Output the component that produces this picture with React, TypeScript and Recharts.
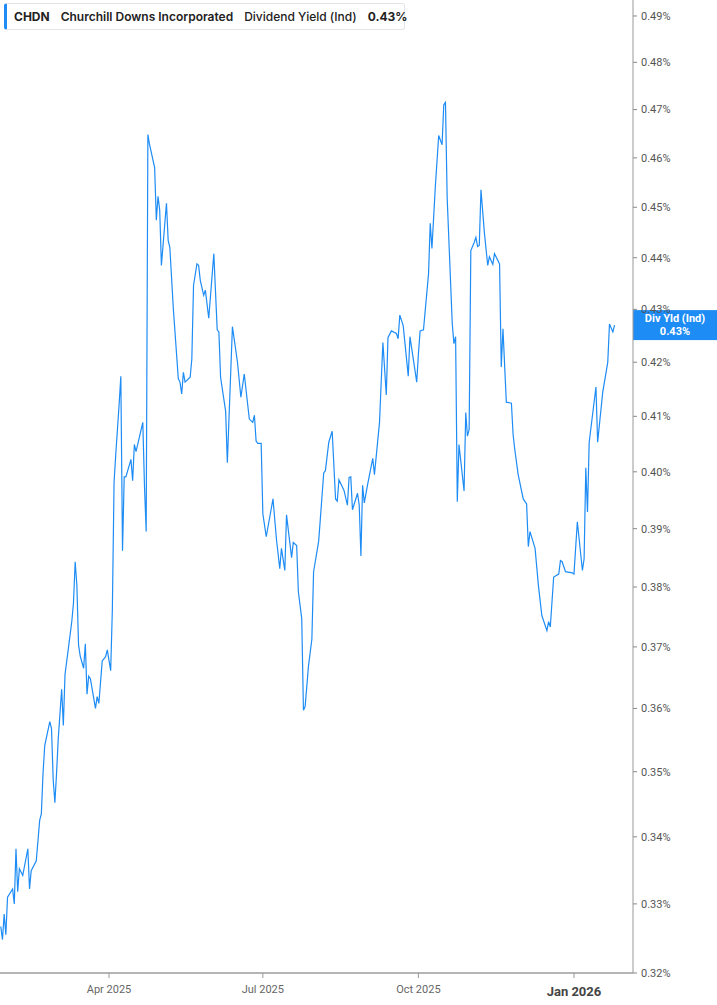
import { Line, LineChart, ReferenceLine, XAxis, YAxis } from 'recharts'

const dates = [
  '2025-01-27', '2025-01-28', '2025-01-29', '2025-01-30', '2025-01-31', '2025-02-03', '2025-02-04', '2025-02-05',
  '2025-02-06', '2025-02-07', '2025-02-09', '2025-02-12', '2025-02-13', '2025-02-14', '2025-02-17', '2025-02-19',
  '2025-02-20', '2025-02-21', '2025-02-22', '2025-02-25', '2025-02-26', '2025-02-27', '2025-02-28', '2025-03-01',
  '2025-03-02', '2025-03-04', '2025-03-05', '2025-03-06', '2025-03-08', '2025-03-10', '2025-03-11', '2025-03-12',
  '2025-03-13', '2025-03-14', '2025-03-15', '2025-03-17', '2025-03-18', '2025-03-19', '2025-03-20', '2025-03-21',
  '2025-03-24', '2025-03-25', '2025-03-26', '2025-03-28', '2025-03-30', '2025-03-31', '2025-04-02', '2025-04-03',
  '2025-04-04', '2025-04-05', '2025-04-06', '2025-04-07', '2025-04-08', '2025-04-09', '2025-04-10', '2025-04-11',
  '2025-04-14', '2025-04-15', '2025-04-16', '2025-04-17', '2025-04-21', '2025-04-22', '2025-04-23', '2025-04-24',
  '2025-04-25', '2025-04-28', '2025-04-29', '2025-04-30', '2025-05-01', '2025-05-02', '2025-05-05', '2025-05-06',
  '2025-05-07', '2025-05-09', '2025-05-12', '2025-05-13', '2025-05-14', '2025-05-15', '2025-05-16', '2025-05-19',
  '2025-05-20', '2025-05-21', '2025-05-23', '2025-05-24', '2025-05-25', '2025-05-27', '2025-05-28', '2025-05-30',
  '2025-06-02', '2025-06-04', '2025-06-05', '2025-06-06', '2025-06-09', '2025-06-10', '2025-06-13', '2025-06-16',
  '2025-06-18', '2025-06-20', '2025-06-23', '2025-06-25', '2025-06-26', '2025-06-27', '2025-06-28', '2025-06-30',
  '2025-07-01', '2025-07-03', '2025-07-07', '2025-07-09', '2025-07-11', '2025-07-12', '2025-07-14', '2025-07-15',
  '2025-07-18', '2025-07-19', '2025-07-21', '2025-07-22', '2025-07-24', '2025-07-25', '2025-07-26', '2025-07-28',
  '2025-07-30', '2025-07-31', '2025-08-03', '2025-08-04', '2025-08-06', '2025-08-07', '2025-08-09', '2025-08-11',
  '2025-08-13', '2025-08-14', '2025-08-15', '2025-08-18', '2025-08-20', '2025-08-21', '2025-08-22', '2025-08-23',
  '2025-08-26', '2025-08-27', '2025-08-28', '2025-08-29', '2025-08-30', '2025-09-01', '2025-09-04', '2025-09-05',
  '2025-09-08', '2025-09-09', '2025-09-10', '2025-09-12', '2025-09-13', '2025-09-15', '2025-09-18', '2025-09-19',
  '2025-09-20', '2025-09-22', '2025-09-25', '2025-09-26', '2025-09-30', '2025-10-01', '2025-10-02', '2025-10-04',
  '2025-10-07', '2025-10-08', '2025-10-09', '2025-10-11', '2025-10-13', '2025-10-15', '2025-10-16', '2025-10-17',
  '2025-10-18', '2025-10-21', '2025-10-22', '2025-10-23', '2025-10-24', '2025-10-25', '2025-10-28', '2025-10-29',
  '2025-10-30', '2025-10-31', '2025-11-01', '2025-11-03', '2025-11-04', '2025-11-05', '2025-11-06', '2025-11-07',
  '2025-11-09', '2025-11-11', '2025-11-12', '2025-11-14', '2025-11-15', '2025-11-18', '2025-11-19', '2025-11-20',
  '2025-11-22', '2025-11-25', '2025-11-26', '2025-11-27', '2025-11-29', '2025-12-02', '2025-12-04', '2025-12-05',
  '2025-12-06', '2025-12-09', '2025-12-11', '2025-12-13', '2025-12-16', '2025-12-17', '2025-12-18', '2025-12-20',
  '2025-12-23', '2025-12-24', '2025-12-25', '2025-12-27', '2025-12-31', '2026-01-01', '2026-01-03', '2026-01-06',
  '2026-01-07', '2026-01-08', '2026-01-09', '2026-01-10', '2026-01-14', '2026-01-15', '2026-01-18', '2026-01-21',
  '2026-01-22', '2026-01-24', '2026-01-25',
]

// dividend yield, in percent
const yields = [
  0.3267, 0.3248, 0.3285, 0.3255, 0.331, 0.3322, 0.33, 0.3382,
  0.3318, 0.3352, 0.3342, 0.3382, 0.3322, 0.3349, 0.3364, 0.3425,
  0.3435, 0.3498, 0.3541, 0.3579, 0.3568, 0.3488, 0.3452, 0.3498,
  0.3552, 0.3631, 0.3573, 0.3655, 0.3698, 0.3742, 0.3773, 0.3843,
  0.3803, 0.3703, 0.3685, 0.3665, 0.3705, 0.3623, 0.3652, 0.3648,
  0.36, 0.3619, 0.3608, 0.3677, 0.3684, 0.3695, 0.3661, 0.3763,
  0.3981, 0.4031, 0.4076, 0.4122, 0.4174, 0.3862, 0.3991, 0.3991,
  0.4022, 0.3984, 0.4049, 0.4036, 0.4089, 0.3974, 0.3895, 0.4648,
  0.4627, 0.458, 0.4474, 0.4522, 0.4494, 0.4385, 0.4508, 0.4434,
  0.442, 0.4304, 0.4169, 0.4163, 0.4141, 0.4181, 0.4163, 0.4172,
  0.4206, 0.4346, 0.4388, 0.4385, 0.4356, 0.4327, 0.4337, 0.4283,
  0.4408, 0.4261, 0.4257, 0.4172, 0.4109, 0.4016, 0.4267, 0.42,
  0.4135, 0.4178, 0.4095, 0.4089, 0.4102, 0.4055, 0.4051, 0.4051,
  0.3926, 0.3886, 0.3952, 0.3883, 0.3831, 0.3866, 0.3828, 0.3924,
  0.385, 0.3876, 0.3871, 0.3792, 0.3747, 0.3597, 0.3603, 0.3669,
  0.3713, 0.3826, 0.3878, 0.3917, 0.3998, 0.4002, 0.4053, 0.4073,
  0.3952, 0.3948, 0.3986, 0.3967, 0.3941, 0.399, 0.3991, 0.3933,
  0.3962, 0.3941, 0.3853, 0.3976, 0.3945, 0.3978, 0.4024, 0.3995,
  0.4089, 0.4163, 0.4237, 0.4139, 0.4246, 0.4259, 0.4254, 0.4244,
  0.4289, 0.4269, 0.4174, 0.4248, 0.4163, 0.4215, 0.4259, 0.4261,
  0.4369, 0.4468, 0.4418, 0.4541, 0.4646, 0.4627, 0.471, 0.4715,
  0.452, 0.4274, 0.4235, 0.4248, 0.3947, 0.4049, 0.3966, 0.4107,
  0.4064, 0.4076, 0.4414, 0.443, 0.444, 0.4422, 0.4424, 0.4535,
  0.445, 0.4385, 0.4402, 0.4387, 0.4408, 0.4388, 0.4191, 0.4263,
  0.4126, 0.4124, 0.4067, 0.404, 0.3995, 0.3952, 0.3943, 0.3869,
  0.3895, 0.3866, 0.3802, 0.3752, 0.3727, 0.3742, 0.3733, 0.3817,
  0.3822, 0.3845, 0.3843, 0.3826, 0.3824, 0.3822, 0.3912, 0.3828,
  0.3848, 0.4007, 0.3929, 0.4053, 0.4154, 0.4053, 0.4144, 0.42,
  0.4272, 0.4257, 0.427,
]

const yTicks = [0.32, 0.33, 0.34, 0.35, 0.36, 0.37, 0.38, 0.39, 0.4, 0.41, 0.42, 0.43, 0.44, 0.45, 0.46, 0.47, 0.48, 0.49]
const xTickDates = ['2025-04-01', '2025-07-01', '2025-10-01', '2026-01-01']
const xTickLabels = ['Apr 2025', 'Jul 2025', 'Oct 2025', 'Jan 2026']

const BLUE = '#1e8cf5'
const toTime = (d: string) => new Date(d + 'T00:00:00Z').getTime()

const rows = dates.map((d, i) => ({ t: toTime(d), v: yields[i] }))
const xTicks = xTickDates.map(toTime)
const lastYield = yields[yields.length - 1]

function XTick({ x, y, payload }: any) {
  const i = xTicks.indexOf(payload.value)
  const label = xTickLabels[i] ?? ''
  const isYear = label.startsWith('Jan')
  return (
    <text
      x={x}
      y={y + (isYear ? 16 : 13)}
      textAnchor="middle"
      fill={isYear ? '#444' : '#666'}
      fontSize={isYear ? 13 : 11}
      fontWeight={isYear ? 700 : 400}
      fontFamily="Roboto, sans-serif"
    >
      {label}
    </text>
  )
}

function LastValueTag({ viewBox }: any) {
  if (!viewBox) return null
  const x = viewBox.x + viewBox.width
  const y = viewBox.y
  return (
    <g>
      <rect x={x} y={y - 15} width={84} height={30} fill={BLUE} />
      <text x={x + 42} y={y - 3} textAnchor="middle" fill="#fff" fontSize={11} fontWeight={700} fontFamily="Roboto, sans-serif">
        Div Yld (Ind)
      </text>
      <text x={x + 42} y={y + 10} textAnchor="middle" fill="#fff" fontSize={11} fontWeight={700} fontFamily="Roboto, sans-serif">
        {lastYield.toFixed(2)}%
      </text>
    </g>
  )
}

export default function App() {
  return (
    <div style={{ position: 'absolute', left: 0, top: 0, width: 717, height: 1005, background: '#fff' }}>
      <LineChart width={717} height={1005} data={rows} margin={{ top: 0, right: 0, left: 0, bottom: 0 }}>
        <XAxis
          dataKey="t"
          type="number"
          scale="time"
          domain={[Date.UTC(2025, 0, 26, 13), Date.UTC(2026, 1, 4, 22)]}
          allowDataOverflow
          ticks={xTicks}
          tick={<XTick />}
          height={32}
          axisLine={{ stroke: '#b5b5b5', strokeWidth: 2 }}
          tickLine={{ stroke: '#999' }}
          tickSize={5}
        />
        <YAxis
          orientation="right"
          scale="log"
          domain={[0.32, 0.4935]}
          allowDataOverflow
          ticks={yTicks}
          width={84}
          tickFormatter={(v) => `${Number(v).toFixed(2)}%`}
          tick={{ fill: '#555', fontSize: 11, fontFamily: 'Roboto, sans-serif', textAnchor: 'start' }}
          axisLine={{ stroke: '#999' }}
          tickLine={{ stroke: '#888' }}
          tickSize={4}
          tickMargin={4}
        />
        <Line
          type="linear"
          dataKey="v"
          stroke={BLUE}
          strokeWidth={1.2}
          dot={false}
          activeDot={false}
          isAnimationActive={false}
        />
        <ReferenceLine y={lastYield} stroke="none" label={<LastValueTag />} />
      </LineChart>
      <div
        style={{
          position: 'absolute',
          left: 4,
          top: 3,
          width: 401,
          height: 27,
          boxSizing: 'border-box',
          border: '1px solid #e4e4e4',
          borderLeft: `3px solid ${BLUE}`,
          borderRadius: 3,
          background: '#fff',
          display: 'flex',
          alignItems: 'center',
          gap: 11,
          paddingLeft: 7,
          fontFamily: 'Inter, sans-serif',
          fontSize: 12,
          color: '#222',
          whiteSpace: 'nowrap',
        }}
      >
        <span style={{ fontWeight: 700 }}>CHDN</span>
        <span style={{ fontWeight: 600 }}>Churchill Downs Incorporated</span>
        <span style={{ fontWeight: 500 }}>Dividend Yield (Ind)</span>
        <span style={{ fontWeight: 700 }}>0.43%</span>
      </div>
    </div>
  )
}
